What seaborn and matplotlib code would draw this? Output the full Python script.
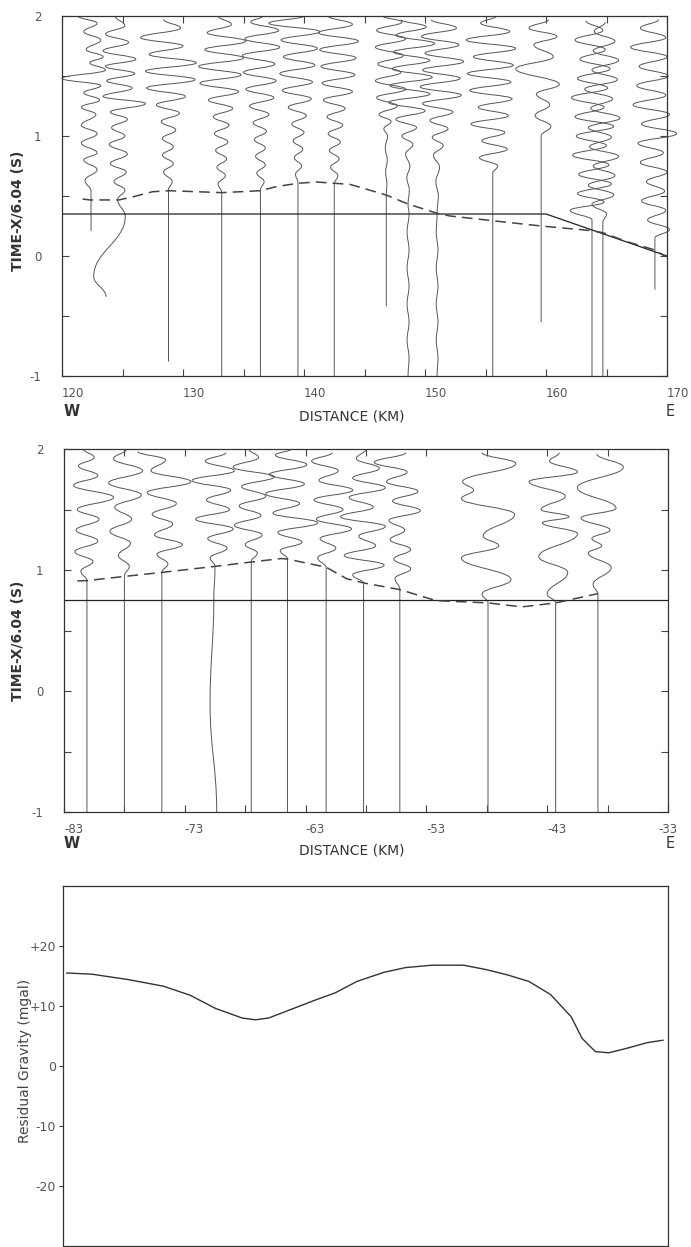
import matplotlib
matplotlib.use("Agg")
import matplotlib.pyplot as plt
from matplotlib.path import Path
from matplotlib.patches import PathPatch
import seaborn as sns

# ---------------- upper record section (120-170 km) ----------------
p1_station = [122.4, 124.6, 128.8, 133.2, 136.4, 139.5, 142.5, 146.8,
              148.6, 151.0, 155.6, 159.6, 163.8, 164.7, 169.0]
# each trace: times (s) and horizontal excursions (km) of its turning points
p1_t = [
    [0.21, 0.48, 0.54, 0.63, 0.72, 0.80, 0.86, 0.94, 1.02, 1.09, 1.18, 1.24, 1.30, 1.36, 1.42, 1.48, 1.55, 1.61, 1.66, 1.72, 1.80, 1.87, 1.94, 2.00],
    [-0.34, -0.17, 0.33, 0.47, 0.55, 0.62, 0.70, 0.77, 0.85, 0.93, 1.00, 1.07, 1.14, 1.20, 1.27, 1.33, 1.40, 1.46, 1.52, 1.58, 1.64, 1.71, 1.78, 1.85, 1.92, 2.00],
    [-0.88, 0.55, 0.62, 0.70, 0.77, 0.84, 0.91, 0.98, 1.05, 1.12, 1.19, 1.26, 1.33, 1.40, 1.47, 1.54, 1.61, 1.68, 1.75, 1.82, 1.90, 1.97],
    [-1.0, 0.53, 0.60, 0.67, 0.74, 0.81, 0.88, 0.95, 1.02, 1.09, 1.16, 1.23, 1.30, 1.37, 1.44, 1.51, 1.58, 1.65, 1.72, 1.79, 1.86, 1.93, 2.00],
    [-1.0, 0.55, 0.62, 0.69, 0.76, 0.83, 0.90, 0.97, 1.04, 1.11, 1.18, 1.25, 1.32, 1.39, 1.46, 1.53, 1.60, 1.67, 1.74, 1.81, 1.88, 1.95, 2.00],
    [-1.0, 0.61, 0.68, 0.75, 0.82, 0.89, 0.96, 1.03, 1.10, 1.17, 1.24, 1.31, 1.38, 1.45, 1.52, 1.59, 1.66, 1.73, 1.80, 1.87, 1.94, 2.00],
    [-1.0, 0.60, 0.67, 0.74, 0.81, 0.88, 0.95, 1.02, 1.09, 1.16, 1.23, 1.30, 1.37, 1.44, 1.51, 1.58, 1.65, 1.72, 1.79, 1.86, 1.93, 2.00],
    [-0.42, 0.51, 0.60, 0.70, 0.80, 0.90, 1.00, 1.06, 1.12, 1.18, 1.25, 1.32, 1.39, 1.46, 1.53, 1.60, 1.67, 1.74, 1.81, 1.88, 1.95, 2.00],
    [-1.0, -0.85, -0.7, -0.55, -0.4, -0.25, -0.1, 0.05, 0.2, 0.35, 0.43, 0.55, 0.65, 0.75, 0.85, 0.93, 1.00, 1.07, 1.14, 1.21, 1.28, 1.35, 1.42, 1.49, 1.56, 1.63, 1.70, 1.77, 1.84, 1.91, 1.97],
    [-1.0, -0.85, -0.7, -0.55, -0.4, -0.25, -0.1, 0.05, 0.2, 0.36, 0.50, 0.62, 0.74, 0.84, 0.92, 0.99, 1.06, 1.13, 1.20, 1.27, 1.34, 1.41, 1.48, 1.55, 1.62, 1.69, 1.76, 1.83, 1.90, 1.97],
    [-1.0, 0.29, 0.69, 0.75, 0.82, 0.89, 0.96, 1.03, 1.10, 1.17, 1.24, 1.31, 1.38, 1.45, 1.52, 1.59, 1.66, 1.73, 1.80, 1.87, 1.94, 2.00],
    [-0.55, 0.25, 1.00, 1.08, 1.17, 1.26, 1.35, 1.43, 1.56, 1.66, 1.76, 1.83, 1.90, 1.97],
    [-1.0, 0.21, 0.30, 0.38, 0.45, 0.52, 0.60, 0.68, 0.76, 0.84, 0.92, 1.00, 1.08, 1.16, 1.24, 1.32, 1.40, 1.48, 1.56, 1.64, 1.72, 1.80, 1.88, 1.96],
    [-1.0, 0.19, 0.28, 0.35, 0.43, 0.51, 0.59, 0.67, 0.75, 0.83, 0.91, 0.99, 1.07, 1.15, 1.23, 1.31, 1.39, 1.47, 1.55, 1.63, 1.71, 1.79, 1.87, 1.95],
    [-0.28, 0.05, 0.15, 0.22, 0.30, 0.38, 0.46, 0.54, 0.62, 0.70, 0.78, 0.86, 0.94, 1.02, 1.10, 1.18, 1.26, 1.34, 1.42, 1.50, 1.58, 1.66, 1.74, 1.82, 1.90, 1.97],
]
p1_dx = [
    [0, 0, 0, -0.5, 0.5, -0.6, 0.5, -0.8, 0.5, -0.8, 0.4, -0.8, 0.7, -0.6, 0.8, -2.4, 1.2, -0.1, 1.0, -0.4, 0.8, -0.6, 0.5, -1.1],
    [-0.96, -1.98, 0.63, 0.0, 0.6, -0.3, 0.7, -0.6, 0.8, -0.7, 0.6, -0.5, 0.8, -0.6, 2.3, -1.2, 1.2, -0.9, 1.4, -1.0, 1.5, -1.2, 0.9, -1.0, 0.6, -0.2],
    [0, 0, 0.3, -0.4, 0.4, -0.5, 0.4, -0.5, 0.6, -0.6, 0.9, -1.0, 1.4, -1.8, 2.2, -1.9, 2.3, -1.6, 1.2, -2.3, 1.0, -0.4],
    [0, 0, -0.3, 0.3, -0.4, 0.4, -0.5, 0.5, -0.6, 0.6, -0.7, 0.9, -1.1, 1.4, -1.8, 1.6, -1.9, 1.8, -1.4, 2.0, -1.2, 0.8, -0.3],
    [0, 0, 0.3, -0.3, 0.4, -0.4, 0.4, -0.5, 0.5, -0.6, 0.7, -0.9, 1.1, -1.2, 1.3, -1.4, 1.2, -1.5, 1.6, -1.3, 1.5, -0.8, 0.2],
    [0, 0, -0.2, 0.3, -0.3, 0.4, -0.4, 0.5, -0.5, 0.7, -0.8, 1.1, -1.3, 1.2, -1.5, 1.4, -1.2, 1.6, -1.4, 1.8, -2.4, 0.5],
    [0, 0, 0.3, -0.3, 0.4, -0.4, 0.5, -0.5, 0.7, -0.6, 0.9, -0.9, 1.5, -1.0, 1.7, -1.1, 1.8, -1.2, 2.0, -1.3, 1.5, -0.5],
    [0, 0, 0.05, -0.05, 0.08, -0.08, 0.1, -0.2, 0.4, -0.6, 0.9, -0.8, 1.6, -0.9, 1.2, -0.7, 1.4, -0.9, 1.6, -0.8, 1.3, -0.3],
    [0, 0.08, -0.08, 0.08, -0.08, 0.08, -0.08, 0.08, -0.08, 0.08, 0, 0.1, -0.1, 0.15, -0.2, 0.4, -0.5, 0.7, -1.0, 1.4, -1.6, 1.8, -1.5, 2.0, -1.3, 1.8, -1.2, 2.2, -1.0, 1.5, -0.6],
    [0, 0.07, -0.07, 0.07, -0.07, 0.07, -0.07, 0.07, -0.07, 0, 0.1, -0.1, 0.2, -0.3, 0.5, -0.4, 0.9, -0.6, 1.3, -1.2, 2.0, -1.4, 1.9, -1.2, 2.2, -1.0, 1.8, -1.3, 1.6, -0.5],
    [0, 0, 0, 0.4, -1.1, 1.2, -0.9, 1.0, -1.8, 1.3, -1.2, 1.6, -1.9, 1.5, -2.1, 1.7, -1.6, 1.9, -2.2, 1.4, -1.0, 0.3],
    [0, 0, 0, 0.8, -0.5, 0.7, -0.4, 1.5, -2.1, 1.0, -0.6, 1.3, -1.0, 0.6],
    [0, 0, 0, -1.8, 1.0, -1.2, 1.6, -1.1, 1.4, -1.6, 1.2, -1.3, 1.8, -1.4, 1.0, -1.7, 1.3, -1.2, 1.5, -1.0, 1.1, -1.4, 0.9, -0.5],
    [0, 0, 0, 0.3, -0.9, 0.9, -1.2, 1.0, -0.8, 1.3, -1.1, 0.7, -1.2, 1.4, -1.0, 0.8, -1.5, 1.2, -0.9, 1.3, -0.8, 1.0, -0.7, 0.2],
    [0, 0, 0, 1.2, -0.6, 0.9, -1.1, 0.8, -0.7, 1.0, -1.2, 0.7, -1.4, 1.8, -1.1, 1.2, -1.8, 0.9, -1.5, 1.1, -1.3, 1.0, -2.0, 0.9, -1.2, 0.3],
]
p1_ref_x = [120, 160, 170]
p1_ref_t = [0.35, 0.35, 0.0]
p1_pick_x = [121.7, 122.3, 124.7, 125.9, 127.5, 128.9, 133.2, 136.4, 137.7, 139.5, 141.0,
             142.5, 143.8, 146.8, 148.6, 151.0, 152.1, 155.6, 159.6, 163.8, 164.7, 166.7, 169.0, 169.9]
p1_pick_t = [0.475, 0.467, 0.467, 0.494, 0.536, 0.544, 0.528, 0.544, 0.578, 0.606, 0.617,
             0.606, 0.597, 0.508, 0.433, 0.356, 0.333, 0.294, 0.25, 0.211, 0.194, 0.119, 0.05, -0.006]

# ---------------- middle record section (-83 to -33 km) ----------------
p2_station = [-81.1, -78.0, -74.9, -70.5, -67.5, -64.5, -61.3, -58.2, -55.2, -47.9, -42.3, -38.8]
p2_t = [
    [-1.0, 0.91, 0.99, 1.07, 1.15, 1.24, 1.33, 1.42, 1.50, 1.60, 1.70, 1.78, 1.86, 1.93, 2.00],
    [-1.0, 0.95, 1.03, 1.12, 1.22, 1.32, 1.42, 1.52, 1.62, 1.72, 1.82, 1.92, 2.00],
    [-1.0, 0.98, 1.05, 1.13, 1.21, 1.29, 1.38, 1.46, 1.55, 1.64, 1.73, 1.82, 1.91, 1.98],
    [-1.0, -0.10, 0.75, 1.03, 1.10, 1.18, 1.26, 1.34, 1.42, 1.50, 1.58, 1.66, 1.74, 1.82, 1.90, 1.97],
    [-1.0, 1.07, 1.14, 1.21, 1.29, 1.37, 1.45, 1.53, 1.61, 1.69, 1.77, 1.85, 1.93, 2.00],
    [-1.0, 1.09, 1.16, 1.23, 1.31, 1.39, 1.47, 1.55, 1.63, 1.71, 1.79, 1.87, 1.95, 2.00],
    [-1.0, 1.02, 1.10, 1.18, 1.26, 1.34, 1.42, 1.50, 1.58, 1.66, 1.74, 1.82, 1.90, 1.97],
    [-1.0, 0.89, 0.96, 1.04, 1.12, 1.20, 1.28, 1.36, 1.44, 1.52, 1.60, 1.68, 1.76, 1.84, 1.92, 2.00],
    [-1.0, 0.84, 0.93, 1.01, 1.09, 1.17, 1.25, 1.33, 1.41, 1.49, 1.57, 1.65, 1.73, 1.81, 1.89, 1.97],
    [-1.0, 0.73, 0.80, 0.92, 1.10, 1.20, 1.28, 1.46, 1.59, 1.66, 1.73, 1.88, 1.97],
    [-1.0, 0.73, 0.80, 0.98, 1.11, 1.30, 1.39, 1.44, 1.50, 1.61, 1.73, 1.81, 1.90, 1.97],
    [-1.0, 0.80, 0.88, 1.02, 1.14, 1.20, 1.26, 1.33, 1.43, 1.51, 1.68, 1.85, 1.96],
]
p2_dx = [
    [0, 0, -0.5, 0.5, -1.0, 0.9, -0.9, 1.0, -0.8, 2.2, -1.1, 0.9, -0.7, 0.6, -0.3],
    [0, 0, 0.4, -0.5, 0.5, -1.2, 0.6, -0.8, 1.4, -1.3, 1.5, -0.9, 0.2],
    [0, 0, 0.5, -0.4, 1.7, -0.6, 0.9, -0.8, 1.2, -1.2, 2.4, -0.9, 0.3, -2.0],
    [0.14, -0.41, -0.1, 0, -0.4, 1.0, -0.6, 1.5, -1.6, 1.2, -0.7, 1.3, -1.9, 1.6, -0.8, 0.9],
    [0, 0, 0.5, -0.5, 0.9, -1.4, 0.8, -1.0, 1.2, -0.8, 1.9, -1.5, 0.6, -0.2],
    [0, 0, -0.6, 1.2, -0.8, 2.5, -1.2, 1.0, -1.8, 1.4, -1.5, 1.6, -1.0, 0.3],
    [0, 0, -0.7, 0.8, -0.5, 2.1, -0.8, 1.4, -1.0, 2.2, -0.6, 1.0, -1.2, 0.5],
    [0, 0, -0.9, 1.7, -1.6, 1.0, -0.4, 1.8, -1.9, 0.8, -1.2, 1.8, -0.9, 1.3, -0.6, 0.2],
    [0, 0, -0.4, 0.9, -0.5, 0.9, -0.8, 0.4, -0.9, 1.7, -0.6, 1.5, -1.1, 0.6, -2.1, 0.5],
    [0, 0, -0.5, 1.9, -2.2, 0.9, -0.4, 2.2, -2.2, -1.2, -2.1, 2.3, -0.5],
    [0, 0, -0.7, 1.0, -1.4, 1.8, -1.1, 1.1, -1.2, 0.8, -2.2, 1.8, -0.5, 0.3],
    [0, 0, -0.4, 1.1, -0.8, 0.3, -0.5, 1.0, -1.4, 1.5, -1.7, 2.1, -0.1],
]
p2_ref_x = [-83, -33]
p2_ref_t = [0.75, 0.75]
p2_pick_x = [-81.9, -81.1, -78.0, -74.9, -70.5, -67.5, -65.0, -64.5, -61.3, -59.6,
             -58.2, -55.2, -52.2, -47.9, -45.1, -42.3, -38.8]
p2_pick_t = [0.91, 0.912, 0.947, 0.98, 1.03, 1.066, 1.095, 1.09, 1.023, 0.928,
             0.893, 0.838, 0.747, 0.728, 0.695, 0.728, 0.805]

# ---------------- residual gravity ----------------
grav_km = [-82.7, -80.6, -77.6, -74.7, -72.5, -70.4, -68.2, -67.1, -66.0, -64.2, -62.0, -60.5, -58.7, -56.5,
           -54.7, -52.5, -49.9, -48.1, -46.3, -44.5, -42.7, -41.0, -40.1, -39.0, -37.9, -36.5, -34.7, -33.4]
grav_mgal = [15.5, 15.3, 14.4, 13.3, 11.8, 9.6, 8.0, 7.7, 8.0, 9.4, 11.1, 12.2, 14.1, 15.6,
             16.4, 16.8, 16.8, 16.1, 15.2, 14.1, 11.9, 8.2, 4.6, 2.4, 2.2, 2.9, 3.9, 4.3]
grav_ticks = [-20, -10, 0, 10, 20]
grav_labels = ['-20', '-10', '0', '+10', '+20']

sns.set_theme(style="white")
plt.rcParams['font.family'] = ['DejaVu Sans']
plt.rcParams['axes.unicode_minus'] = False

INK = '#333333'
TRACE = '#555555'


def draw_trace(ax, x0, ts, dxs, k=0.42):
    # smooth curve through the turning points (vertical tangent at each)
    verts = [(x0 + dxs[0], ts[0])]
    codes = [Path.MOVETO]
    for i in range(len(ts) - 1):
        h = ts[i + 1] - ts[i]
        verts += [(x0 + dxs[i], ts[i] + k * h),
                  (x0 + dxs[i + 1], ts[i + 1] - k * h),
                  (x0 + dxs[i + 1], ts[i + 1])]
        codes += [Path.CURVE4] * 3
    ax.add_patch(PathPatch(Path(verts, codes), fill=False, ec=TRACE, lw=0.7, clip_on=False))


def style_section(ax, x0, x1):
    ax.set_xlim(x0, x1)
    ax.set_ylim(-1, 2)
    ax.set_xticks(list(range(x0, x1 + 1, 10)))
    ax.set_xticks(list(range(x0 + 5, x1, 5)), minor=True)
    ax.set_yticks([-1, 0, 1, 2])
    ax.set_yticks([-0.5, 0.5, 1.5], minor=True)
    ax.tick_params(which='both', direction='in', top=True, right=True, bottom=True, left=True,
                   length=5, width=0.8, color='#444444', labelcolor='#555555', labelsize=8.5)
    ax.tick_params(axis='x', pad=8)
    ax.tick_params(axis='y', pad=15)
    for lab in ax.get_xticklabels():
        lab.set_ha('left')
    for s in ax.spines.values():
        s.set_color(INK)
        s.set_linewidth(0.9)
    ax.set_xlabel('')
    ax.set_ylabel('')


fig = plt.figure(figsize=(6.91, 12.47), dpi=100)
ax1 = fig.add_axes([62 / 691, 1 - 376 / 1247, 605 / 691, 360 / 1247])
ax2 = fig.add_axes([64 / 691, 1 - 812 / 1247, 604 / 691, 363 / 1247])
ax3 = fig.add_axes([63 / 691, 1 - 1246 / 1247, 605 / 691, 360 / 1247])

# upper section
for x0, ts, dxs in zip(p1_station, p1_t, p1_dx):
    draw_trace(ax1, x0, ts, dxs)
sns.lineplot(x=p1_ref_x, y=p1_ref_t, ax=ax1, color='#222222', lw=0.9)
sns.lineplot(x=p1_pick_x, y=p1_pick_t, ax=ax1, color='#444444', lw=1.1, linestyle=(0, (7, 4)))
style_section(ax1, 120, 170)

# middle section
for x0, ts, dxs in zip(p2_station, p2_t, p2_dx):
    draw_trace(ax2, x0, ts, dxs)
sns.lineplot(x=p2_ref_x, y=p2_ref_t, ax=ax2, color='#222222', lw=0.9)
sns.lineplot(x=p2_pick_x, y=p2_pick_t, ax=ax2, color='#444444', lw=1.1, linestyle=(0, (7, 4)))
style_section(ax2, -83, -33)
ax2.get_xticklabels()[-1].set_ha('center')

# gravity
sns.lineplot(x=grav_km, y=grav_mgal, ax=ax3, color='#333333', lw=1.0)
ax3.set_xlim(-83, -33)
ax3.set_ylim(-30, 30)
ax3.set_xticks([])
ax3.set_yticks(grav_ticks)
ax3.set_yticklabels(grav_labels)
ax3.tick_params(axis='y', direction='out', left=True, length=3, width=0.8, color='#444444',
                labelcolor='#555555', labelsize=9, pad=2)
for s in ax3.spines.values():
    s.set_color(INK)
    s.set_linewidth(0.9)
ax3.set_xlabel('')
ax3.set_ylabel('')

# labels
for yc in (211, 641):
    fig.text(18 / 691, 1 - yc / 1247, 'TIME-X/6.04 (S)', rotation=90, ha='center', va='center',
             fontsize=10, weight='bold', color=INK)
for yw, yd in ((411, 417), (843, 851)):
    fig.text(64 / 691, 1 - yw / 1247, 'W', ha='left', va='center', fontsize=10.5, weight='bold', color=INK)
    fig.text(666 / 691, 1 - yw / 1247, 'E', ha='left', va='center', fontsize=10.5, color=INK)
    fig.text(352 / 691, 1 - yd / 1247, 'DISTANCE (KM)', ha='center', va='center', fontsize=10, color=INK)
fig.text(25 / 691, 1 - 1061 / 1247, 'Residual Gravity (mgal)', rotation=90, ha='center', va='center',
         fontsize=10, color='#444444')

fig.savefig('out.png', dpi=100)
